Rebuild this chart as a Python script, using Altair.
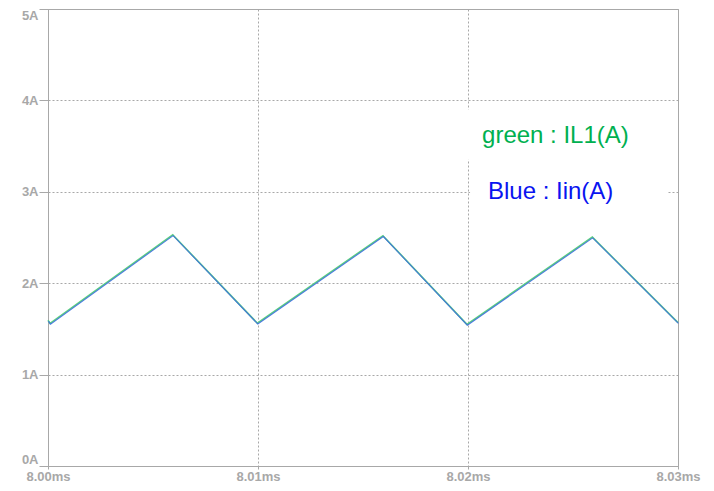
import altair as alt
import pandas as pd

# waveform (time in ms, current in A)
t_ms = [8.0000, 8.0001, 8.00594, 8.00997, 8.01595, 8.01995, 8.02592, 8.0300]
il1 = [1.59, 1.555, 2.525, 1.558, 2.515, 1.545, 2.50, 1.565]
iin = [1.59, 1.555, 2.525, 1.558, 2.515, 1.545, 2.50, 1.565]

x_ticks = [8.00, 8.01, 8.02, 8.03]
y_ticks = [0, 1, 2, 3, 4, 5]

labels = ["green : IL1(A)", "Blue : Iin(A)"]
label_colors = ["#00b050", "#0a14f0"]
label_t = [8.02067, 8.02095]
label_a = [3.53, 2.92]
box_t1 = [8.01971, 8.0201]
box_t2 = [8.02819, 8.02952]
box_a1 = [3.90, 3.25]
box_a2 = [3.35, 2.79]

wave = pd.DataFrame({"t": t_ms, "IL1": il1, "Iin": iin})
ann = pd.DataFrame({"label": labels, "color": label_colors, "t": label_t, "a": label_a,
                    "t1": box_t1, "t2": box_t2, "a1": box_a1, "a2": box_a2})

GRAY = "#a8a8a8"
FONT = "Liberation Sans"

xscale = alt.Scale(domain=[8.00, 8.03], nice=False, zero=False)
yscale = alt.Scale(domain=[0, 5], nice=False)

xaxis = alt.Axis(values=x_ticks, labelExpr="format(datum.value, '.2f') + 'ms'", title=None,
                 grid=True, gridColor=GRAY, gridDash=[2, 2], gridWidth=1,
                 domainColor=GRAY, tickColor=GRAY, tickSize=3, labelColor=GRAY,
                 labelFont=FONT, labelFontSize=13, labelFontWeight="bold", labelPadding=1,
                 labelFlush=False)
yaxis = alt.Axis(values=y_ticks, labelExpr="datum.value + 'A'", title=None,
                 grid=True, gridColor=GRAY, gridDash=[2, 2], gridWidth=1,
                 domainColor=GRAY, tickColor=GRAY, tickSize=9, labelColor=GRAY,
                 labelFont=FONT, labelFontSize=13, labelFontWeight="bold", labelPadding=1,
                 labelFlush=True)

boxes = alt.Chart(ann).mark_rect(color="white").encode(
    x=alt.X("t1:Q", scale=xscale, axis=xaxis), x2="t2:Q",
    y=alt.Y("a1:Q", scale=yscale, axis=yaxis), y2="a2:Q")

green = alt.Chart(wave).mark_line(color="#5ccf80", strokeWidth=1.6, yOffset=-0.4).encode(
    x=alt.X("t:Q", scale=xscale), y=alt.Y("IL1:Q", scale=yscale))
blue = alt.Chart(wave).mark_line(color="#3f6fe0", strokeWidth=1.1, opacity=0.9,
                                 xOffset=0.4, yOffset=0.4).encode(
    x=alt.X("t:Q", scale=xscale), y=alt.Y("Iin:Q", scale=yscale))

texts = alt.Chart(ann).mark_text(align="left", baseline="alphabetic", font=FONT,
                                 fontSize=24).encode(
    x=alt.X("t:Q", scale=xscale), y=alt.Y("a:Q", scale=yscale),
    text="label:N", color=alt.Color("color:N", scale=None))

chart = alt.layer(boxes, green, blue, texts).properties(
    width=630, height=457,
    autosize=alt.AutoSizeParams(type="none"),
    padding={"left": 40, "top": 1, "right": 26, "bottom": 17},
).configure_view(stroke=GRAY, strokeWidth=1)

chart.save("out.html", embed_options={"renderer": "svg", "actions": False})
